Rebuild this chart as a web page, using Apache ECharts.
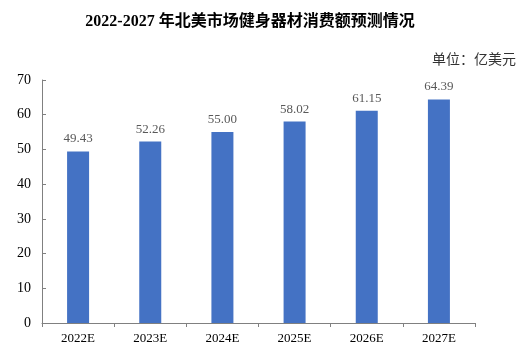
<!DOCTYPE html>
<html>
<head>
<meta charset="utf-8">
<script src="https://cdn.jsdelivr.net/npm/echarts@6/dist/echarts.min.js"></script>
<style>
  html, body { margin: 0; padding: 0; background: #fff; }
  #main { width: 529px; height: 352px; }
</style>
</head>
<body>
<div id="main"></div>
<script>
var myChart = echarts.init(document.getElementById("main"));

const years = ["2022E", "2023E", "2024E", "2025E", "2026E", "2027E"];
const values = [49.43, 52.26, 55.0, 58.02, 61.15, 64.39];
const yTicks = [0, 10, 20, 30, 40, 50, 60, 70];

const serif = "'Liberation Serif', 'Times New Roman', 'Noto Sans CJK SC', serif";

option = {
  animation: false,
  title: [
    {
      text: "2022-2027 年北美市场健身器材消费额预测情况",
      left: 245,
      top: 9,
      textAlign: "center",
      textStyle: {
        fontFamily: serif,
        fontSize: 16,
        fontWeight: "bold",
        color: "#000",
      },
    },
    {
      text: "单位：亿美元",
      right: 8,
      top: 48,
      textStyle: {
        fontFamily: serif,
        fontSize: 14,
        fontWeight: "normal",
        color: "#333",
      },
    },
  ],
  grid: {
    left: 42,
    right: 54,
    top: 80,
    bottom: 29,
  },
  xAxis: {
    type: "category",
    data: years,
    axisLine: { lineStyle: { color: "#808080", width: 1 } },
    axisTick: { show: true, length: 4, lineStyle: { color: "#808080" } },
    axisLabel: {
      fontFamily: serif,
      fontSize: 13,
      color: "#000",
      margin: 9,
    },
  },
  yAxis: {
    type: "value",
    min: yTicks[0],
    max: yTicks[yTicks.length - 1],
    interval: 10,
    axisLine: { show: true, lineStyle: { color: "#808080", width: 1 } },
    axisTick: { show: true, inside: true, length: 4, lineStyle: { color: "#808080" } },
    splitLine: { show: false },
    axisLabel: {
      fontFamily: serif,
      fontSize: 14,
      color: "#000",
      margin: 11,
    },
  },
  series: [
    {
      type: "bar",
      data: values,
      barWidth: 22,
      itemStyle: { color: "#4472C4" },
      label: {
        show: true,
        position: "top",
        distance: 6,
        fontFamily: serif,
        fontSize: 13,
        color: "#595959",
        formatter: function (p) {
          return p.value.toFixed(2);
        },
      },
    },
  ],
};
myChart.setOption(option);
</script>
</body>
</html>
